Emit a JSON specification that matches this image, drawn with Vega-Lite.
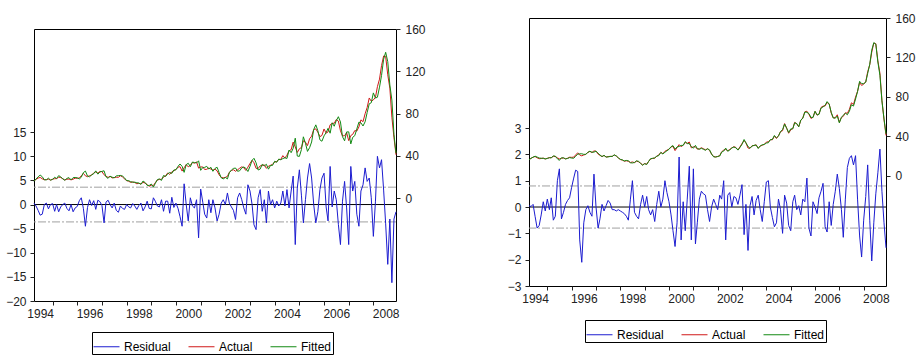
{
  "$schema": "https://vega.github.io/schema/vega-lite/v6.json",
  "background": "white",
  "padding": {"left": 5, "top": 11, "right": 0, "bottom": 0},
  "config": {
    "view": {"stroke": "black", "strokeWidth": 1},
    "font": "Liberation Sans",
    "axis": {"labelFont": "Liberation Sans", "labelFontSize": 12, "labelColor": "#222222", "tickColor": "#222222", "grid": false, "domain": false, "labelOverlap": false, "labelSeparation": 0, "labelFlush": false, "tickCount": 40, "title": null},
    "legend": {"orient": "none", "direction": "horizontal", "title": null, "strokeColor": "black", "fillColor": "white", "padding": 1, "symbolType": "stroke", "symbolSize": 676, "symbolStrokeWidth": 1, "labelFont": "Liberation Sans", "labelFontSize": 12, "labelColor": "black", "columnPadding": 15, "labelOffset": 4}
  },
  "datasets": {
    "oil": [
      {"m":"1994-04","a":16.4,"fl":16.1,"rl":0.3,"fr":16.35,"rr":0.05},
      {"m":"1994-05","a":17.9,"fl":18.2,"rl":-0.3,"fr":17.88,"rr":0.02},
      {"m":"1994-06","a":19.1,"fl":20.3,"rl":-1.2,"fr":19.0,"rr":0.1},
      {"m":"1994-07","a":19.7,"fl":21.9,"rl":-2.2,"fr":20.05,"rr":-0.35},
      {"m":"1994-08","a":18.4,"fl":20.4,"rl":-2.0,"fr":19.2,"rr":-0.8},
      {"m":"1994-09","a":17.5,"fl":17.5,"rl":0.0,"fr":18.2,"rr":-0.7},
      {"m":"1994-10","a":17.7,"fl":17.4,"rl":0.3,"fr":18.0,"rr":-0.3},
      {"m":"1994-11","a":18.1,"fl":19.0,"rl":-0.9,"fr":17.9,"rr":0.2},
      {"m":"1994-12","a":17.2,"fl":17.2,"rl":0.0,"fr":17.35,"rr":-0.15},
      {"m":"1995-01","a":18.0,"fl":17.8,"rl":0.2,"fr":17.7,"rr":0.3},
      {"m":"1995-02","a":18.5,"fl":19.9,"rl":-1.4,"fr":18.6,"rr":-0.1},
      {"m":"1995-03","a":18.6,"fl":18.6,"rl":0.0,"fr":18.25,"rr":0.35},
      {"m":"1995-04","a":19.9,"fl":21.4,"rl":-1.5,"fr":20.4,"rr":-0.5},
      {"m":"1995-05","a":19.7,"fl":20.2,"rl":-0.5,"fr":20.05,"rr":-0.35},
      {"m":"1995-06","a":18.4,"fl":18.4,"rl":0.0,"fr":17.4,"rr":1.0},
      {"m":"1995-07","a":17.3,"fl":17.0,"rl":0.3,"fr":15.85,"rr":1.45},
      {"m":"1995-08","a":18.0,"fl":18.8,"rl":-0.8,"fr":18.45,"rr":-0.45},
      {"m":"1995-09","a":18.2,"fl":19.5,"rl":-1.3,"fr":18.4,"rr":-0.2},
      {"m":"1995-10","a":17.4,"fl":17.4,"rl":0.0,"fr":17.3,"rr":0.1},
      {"m":"1995-11","a":18.0,"fl":19.5,"rl":-1.5,"fr":17.75,"rr":0.25},
      {"m":"1995-12","a":19.0,"fl":19.7,"rl":-0.7,"fr":18.65,"rr":0.35},
      {"m":"1996-01","a":18.9,"fl":19.3,"rl":-0.4,"fr":18.15,"rr":0.75},
      {"m":"1996-02","a":19.1,"fl":18.3,"rl":0.8,"fr":18.0,"rr":1.1},
      {"m":"1996-03","a":21.3,"fl":19.9,"rl":1.4,"fr":19.9,"rr":1.4},
      {"m":"1996-04","a":23.5,"fl":24.3,"rl":-0.8,"fr":22.15,"rr":1.35},
      {"m":"1996-05","a":21.2,"fl":25.7,"rl":-4.5,"fr":22.45,"rr":-1.25},
      {"m":"1996-06","a":20.4,"fl":21.0,"rl":-0.6,"fr":22.5,"rr":-2.1},
      {"m":"1996-07","a":21.3,"fl":20.3,"rl":1.0,"fr":21.9,"rr":-0.6},
      {"m":"1996-08","a":21.9,"fl":22.1,"rl":-0.2,"fr":22.0,"rr":-0.1},
      {"m":"1996-09","a":24.0,"fl":23.2,"rl":0.8,"fr":23.95,"rr":0.05},
      {"m":"1996-10","a":24.9,"fl":25.9,"rl":-1.0,"fr":25.1,"rr":-0.2},
      {"m":"1996-11","a":23.7,"fl":22.8,"rl":0.9,"fr":24.05,"rr":-0.35},
      {"m":"1996-12","a":25.4,"fl":24.8,"rl":0.6,"fr":24.15,"rr":1.25},
      {"m":"1997-01","a":25.2,"fl":25.4,"rl":-0.2,"fr":25.2,"rr":0.0},
      {"m":"1997-02","a":22.2,"fl":26.0,"rl":-3.8,"fr":23.0,"rr":-0.8},
      {"m":"1997-03","a":20.9,"fl":20.4,"rl":0.5,"fr":21.35,"rr":-0.45},
      {"m":"1997-04","a":19.7,"fl":18.8,"rl":0.9,"fr":19.6,"rr":0.1},
      {"m":"1997-05","a":20.8,"fl":20.8,"rl":0.0,"fr":20.95,"rr":-0.15},
      {"m":"1997-06","a":19.2,"fl":19.9,"rl":-0.7,"fr":19.15,"rr":0.05},
      {"m":"1997-07","a":19.6,"fl":19.3,"rl":0.3,"fr":19.35,"rr":0.25},
      {"m":"1997-08","a":19.9,"fl":21.1,"rl":-1.2,"fr":19.75,"rr":0.15},
      {"m":"1997-09","a":19.8,"fl":21.4,"rl":-1.6,"fr":19.9,"rr":-0.1},
      {"m":"1997-10","a":21.3,"fl":21.6,"rl":-0.3,"fr":21.4,"rr":-0.1},
      {"m":"1997-11","a":20.2,"fl":21.0,"rl":-0.8,"fr":20.35,"rr":-0.15},
      {"m":"1997-12","a":18.3,"fl":19.3,"rl":-1.0,"fr":18.4,"rr":-0.1},
      {"m":"1998-01","a":16.7,"fl":16.7,"rl":0.0,"fr":16.85,"rr":-0.15},
      {"m":"1998-02","a":16.1,"fl":16.6,"rl":-0.5,"fr":16.3,"rr":-0.2},
      {"m":"1998-03","a":15.0,"fl":15.7,"rl":-0.7,"fr":15.25,"rr":-0.25},
      {"m":"1998-04","a":15.4,"fl":15.2,"rl":0.2,"fr":15.75,"rr":-0.35},
      {"m":"1998-05","a":14.9,"fl":15.2,"rl":-0.3,"fr":15.4,"rr":-0.5},
      {"m":"1998-06","a":13.7,"fl":14.7,"rl":-1.0,"fr":13.4,"rr":0.3},
      {"m":"1998-07","a":14.2,"fl":14.4,"rl":-0.2,"fr":13.2,"rr":1.0},
      {"m":"1998-08","a":13.5,"fl":13.2,"rl":0.3,"fr":13.7,"rr":-0.2},
      {"m":"1998-09","a":15.0,"fl":16.3,"rl":-1.3,"fr":15.35,"rr":-0.35},
      {"m":"1998-10","a":14.4,"fl":14.9,"rl":-0.5,"fr":14.85,"rr":-0.45},
      {"m":"1998-11","a":12.9,"fl":12.2,"rl":0.7,"fr":12.8,"rr":0.1},
      {"m":"1998-12","a":11.3,"fl":12.1,"rl":-0.8,"fr":10.85,"rr":0.45},
      {"m":"1999-01","a":12.5,"fl":13.4,"rl":-0.9,"fr":12.5,"rr":0.0},
      {"m":"1999-02","a":12.0,"fl":10.6,"rl":1.4,"fr":11.6,"rr":0.4},
      {"m":"1999-03","a":14.7,"fl":14.0,"rl":0.7,"fr":14.8,"rr":-0.1},
      {"m":"1999-04","a":17.3,"fl":17.6,"rl":-0.3,"fr":17.6,"rr":-0.3},
      {"m":"1999-05","a":17.8,"fl":18.3,"rl":-0.5,"fr":17.9,"rr":-0.1},
      {"m":"1999-06","a":17.9,"fl":16.9,"rl":1.0,"fr":18.45,"rr":-0.55},
      {"m":"1999-07","a":20.1,"fl":21.5,"rl":-1.4,"fr":20.0,"rr":0.1},
      {"m":"1999-08","a":21.3,"fl":20.6,"rl":0.7,"fr":20.7,"rr":0.6},
      {"m":"1999-09","a":23.9,"fl":23.2,"rl":0.7,"fr":23.9,"rr":0.0},
      {"m":"1999-10","a":22.6,"fl":24.4,"rl":-1.8,"fr":22.3,"rr":0.3},
      {"m":"1999-11","a":25.0,"fl":23.5,"rl":1.5,"fr":24.0,"rr":1.0},
      {"m":"1999-12","a":26.1,"fl":26.7,"rl":-0.6,"fr":25.55,"rr":0.55},
      {"m":"2000-01","a":27.2,"fl":26.9,"rl":0.3,"fr":27.0,"rr":0.2},
      {"m":"2000-02","a":29.4,"fl":30.2,"rl":-0.8,"fr":29.7,"rr":-0.3},
      {"m":"2000-03","a":29.9,"fl":32.4,"rl":-2.5,"fr":30.8,"rr":-0.9},
      {"m":"2000-04","a":25.7,"fl":30.2,"rl":-4.5,"fr":27.2,"rr":-1.5},
      {"m":"2000-05","a":28.8,"fl":24.5,"rl":4.3,"fr":29.4,"rr":-0.6},
      {"m":"2000-06","a":31.8,"fl":31.8,"rl":0.0,"fr":29.9,"rr":1.9},
      {"m":"2000-07","a":29.7,"fl":33.1,"rl":-3.4,"fr":30.95,"rr":-1.25},
      {"m":"2000-08","a":31.2,"fl":29.8,"rl":1.4,"fr":31.0,"rr":0.2},
      {"m":"2000-09","a":33.9,"fl":34.2,"rl":-0.3,"fr":34.8,"rr":-0.9},
      {"m":"2000-10","a":33.1,"fl":33.8,"rl":-0.7,"fr":32.8,"rr":0.3},
      {"m":"2000-11","a":34.4,"fl":33.4,"rl":1.0,"fr":32.85,"rr":1.55},
      {"m":"2000-12","a":28.5,"fl":35.4,"rl":-6.9,"fr":29.75,"rr":-1.25},
      {"m":"2001-01","a":29.6,"fl":26.4,"rl":3.2,"fr":28.15,"rr":1.45},
      {"m":"2001-02","a":29.6,"fl":29.1,"rl":0.5,"fr":31.0,"rr":-1.4},
      {"m":"2001-03","a":27.2,"fl":29.2,"rl":-2.0,"fr":27.8,"rr":-0.6},
      {"m":"2001-04","a":27.4,"fl":30.2,"rl":-2.8,"fr":27.1,"rr":0.3},
      {"m":"2001-05","a":28.6,"fl":27.6,"rl":1.0,"fr":28.0,"rr":0.6},
      {"m":"2001-06","a":27.6,"fl":29.3,"rl":-1.7,"fr":27.1,"rr":0.5},
      {"m":"2001-07","a":26.5,"fl":25.5,"rl":1.0,"fr":26.05,"rr":0.45},
      {"m":"2001-08","a":27.5,"fl":28.2,"rl":-0.7,"fr":27.6,"rr":-0.1},
      {"m":"2001-09","a":25.9,"fl":29.3,"rl":-3.4,"fr":26.45,"rr":-0.55},
      {"m":"2001-10","a":22.2,"fl":24.2,"rl":-2.0,"fr":22.2,"rr":0.0},
      {"m":"2001-11","a":19.7,"fl":19.4,"rl":0.3,"fr":19.4,"rr":0.3},
      {"m":"2001-12","a":19.3,"fl":18.3,"rl":1.0,"fr":19.2,"rr":0.1},
      {"m":"2002-01","a":19.7,"fl":19.7,"rl":0.0,"fr":19.8,"rr":-0.1},
      {"m":"2002-02","a":20.7,"fl":18.3,"rl":2.4,"fr":20.25,"rr":0.45},
      {"m":"2002-03","a":24.5,"fl":24.2,"rl":0.3,"fr":24.2,"rr":0.3},
      {"m":"2002-04","a":26.2,"fl":26.7,"rl":-0.5,"fr":25.2,"rr":1.0},
      {"m":"2002-05","a":27.0,"fl":28.2,"rl":-1.2,"fr":28.25,"rr":-1.25},
      {"m":"2002-06","a":25.5,"fl":28.6,"rl":-3.1,"fr":25.05,"rr":0.45},
      {"m":"2002-07","a":26.9,"fl":25.5,"rl":1.4,"fr":26.35,"rr":0.55},
      {"m":"2002-08","a":28.4,"fl":26.0,"rl":2.4,"fr":28.4,"rr":0.0},
      {"m":"2002-09","a":29.7,"fl":28.7,"rl":1.0,"fr":29.3,"rr":0.4},
      {"m":"2002-10","a":28.9,"fl":29.6,"rl":-0.7,"fr":28.55,"rr":0.35},
      {"m":"2002-11","a":26.3,"fl":28.3,"rl":-2.0,"fr":26.2,"rr":0.1},
      {"m":"2002-12","a":29.4,"fl":25.3,"rl":4.1,"fr":28.95,"rr":0.45},
      {"m":"2003-01","a":32.9,"fl":30.1,"rl":2.8,"fr":32.05,"rr":0.85},
      {"m":"2003-02","a":35.9,"fl":35.9,"rl":0.0,"fr":36.95,"rr":-1.05},
      {"m":"2003-03","a":33.6,"fl":37.8,"rl":-4.2,"fr":33.5,"rr":0.1},
      {"m":"2003-04","a":28.3,"fl":33.5,"rl":-5.2,"fr":29.95,"rr":-1.65},
      {"m":"2003-05","a":28.1,"fl":26.7,"rl":1.4,"fr":28.05,"rr":0.05},
      {"m":"2003-06","a":30.7,"fl":27.6,"rl":3.1,"fr":30.3,"rr":0.4},
      {"m":"2003-07","a":30.8,"fl":32.2,"rl":-1.4,"fr":31.1,"rr":-0.3},
      {"m":"2003-08","a":31.6,"fl":30.6,"rl":1.0,"fr":31.35,"rr":0.25},
      {"m":"2003-09","a":28.3,"fl":32.1,"rl":-3.8,"fr":27.85,"rr":0.45},
      {"m":"2003-10","a":30.3,"fl":27.5,"rl":2.8,"fr":30.4,"rr":-0.1},
      {"m":"2003-11","a":31.1,"fl":31.1,"rl":0.0,"fr":31.65,"rr":-0.55},
      {"m":"2003-12","a":32.1,"fl":31.1,"rl":1.0,"fr":31.9,"rr":0.2},
      {"m":"2004-01","a":34.3,"fl":35.0,"rl":-0.7,"fr":33.35,"rr":0.95},
      {"m":"2004-02","a":34.7,"fl":34.0,"rl":0.7,"fr":33.7,"rr":1.0},
      {"m":"2004-03","a":36.7,"fl":37.0,"rl":-0.3,"fr":36.7,"rr":0.0},
      {"m":"2004-04","a":36.7,"fl":36.4,"rl":0.3,"fr":37.1,"rr":-0.4},
      {"m":"2004-05","a":40.3,"fl":37.5,"rl":2.8,"fr":41.05,"rr":-0.75},
      {"m":"2004-06","a":38.0,"fl":38.3,"rl":-0.3,"fr":38.6,"rr":-0.6},
      {"m":"2004-07","a":40.7,"fl":37.6,"rl":3.1,"fr":40.4,"rr":0.3},
      {"m":"2004-08","a":44.9,"fl":45.6,"rl":-0.7,"fr":45.0,"rr":-0.1},
      {"m":"2004-09","a":45.9,"fl":43.1,"rl":2.8,"fr":46.9,"rr":-1.0},
      {"m":"2004-10","a":53.1,"fl":47.2,"rl":5.9,"fr":52.65,"rr":0.45},
      {"m":"2004-11","a":48.5,"fl":56.8,"rl":-8.3,"fr":48.35,"rr":0.15},
      {"m":"2004-12","a":43.3,"fl":39.9,"rl":3.4,"fr":44.0,"rr":-0.7},
      {"m":"2005-01","a":46.8,"fl":39.6,"rl":7.2,"fr":47.7,"rr":-0.9},
      {"m":"2005-02","a":48.0,"fl":46.2,"rl":1.8,"fr":47.8,"rr":0.2},
      {"m":"2005-03","a":54.3,"fl":58.1,"rl":-3.8,"fr":53.85,"rr":0.45},
      {"m":"2005-04","a":53.0,"fl":52.0,"rl":1.0,"fr":53.1,"rr":-0.1},
      {"m":"2005-05","a":49.8,"fl":44.3,"rl":5.5,"fr":49.75,"rr":0.05},
      {"m":"2005-06","a":56.3,"fl":47.8,"rl":8.5,"fr":56.6,"rr":-0.3},
      {"m":"2005-07","a":58.7,"fl":53.2,"rl":5.5,"fr":58.4,"rr":0.3},
      {"m":"2005-08","a":65.0,"fl":65.0,"rl":0.0,"fr":64.8,"rr":0.2},
      {"m":"2005-09","a":65.6,"fl":69.4,"rl":-3.8,"fr":64.5,"rr":1.1},
      {"m":"2005-10","a":62.4,"fl":63.9,"rl":-1.5,"fr":63.2,"rr":-0.8},
      {"m":"2005-11","a":58.3,"fl":55.2,"rl":3.1,"fr":59.4,"rr":-1.1},
      {"m":"2005-12","a":59.4,"fl":53.9,"rl":5.5,"fr":59.2,"rr":0.2},
      {"m":"2006-01","a":65.5,"fl":59.0,"rl":6.5,"fr":65.5,"rr":0.0},
      {"m":"2006-02","a":61.6,"fl":62.1,"rl":-0.5,"fr":61.85,"rr":-0.25},
      {"m":"2006-03","a":62.7,"fl":66.1,"rl":-3.4,"fr":62.35,"rr":0.35},
      {"m":"2006-04","a":69.4,"fl":61.5,"rl":7.9,"fr":68.8,"rr":0.6},
      {"m":"2006-05","a":70.8,"fl":71.3,"rl":-0.5,"fr":69.9,"rr":0.9},
      {"m":"2006-06","a":70.9,"fl":68.1,"rl":2.8,"fr":71.65,"rr":-0.75},
      {"m":"2006-07","a":74.4,"fl":73.4,"rl":1.0,"fr":75.35,"rr":-0.95},
      {"m":"2006-08","a":73.0,"fl":77.1,"rl":-4.1,"fr":72.8,"rr":0.2},
      {"m":"2006-09","a":63.8,"fl":72.1,"rl":-8.3,"fr":64.5,"rr":-0.7},
      {"m":"2006-10","a":58.9,"fl":58.2,"rl":0.7,"fr":58.8,"rr":0.1},
      {"m":"2006-11","a":59.1,"fl":54.3,"rl":4.8,"fr":58.5,"rr":0.6},
      {"m":"2006-12","a":62.0,"fl":62.7,"rl":-0.7,"fr":60.75,"rr":1.25},
      {"m":"2007-01","a":54.5,"fl":62.8,"rl":-8.3,"fr":53.8,"rr":0.7},
      {"m":"2007-02","a":59.3,"fl":51.4,"rl":7.9,"fr":59.4,"rr":-0.1},
      {"m":"2007-03","a":60.4,"fl":57.6,"rl":2.8,"fr":61.55,"rr":-1.15},
      {"m":"2007-04","a":64.0,"fl":59.2,"rl":4.8,"fr":63.7,"rr":0.3},
      {"m":"2007-05","a":63.5,"fl":65.5,"rl":-2.0,"fr":62.0,"rr":1.5},
      {"m":"2007-06","a":67.5,"fl":72.0,"rl":-4.5,"fr":65.65,"rr":1.85},
      {"m":"2007-07","a":74.1,"fl":71.3,"rl":2.8,"fr":72.15,"rr":1.95},
      {"m":"2007-08","a":72.4,"fl":68.3,"rl":4.1,"fr":70.8,"rr":1.6},
      {"m":"2007-09","a":79.9,"fl":72.3,"rl":7.6,"fr":77.95,"rr":1.95},
      {"m":"2007-10","a":85.8,"fl":81.0,"rl":4.8,"fr":85.5,"rr":0.3},
      {"m":"2007-11","a":94.8,"fl":89.3,"rl":5.5,"fr":95.9,"rr":-1.1},
      {"m":"2007-12","a":91.7,"fl":90.3,"rl":1.4,"fr":93.6,"rr":-1.9},
      {"m":"2008-01","a":93.0,"fl":99.6,"rl":-6.6,"fr":93.5,"rr":-0.5},
      {"m":"2008-02","a":95.4,"fl":94.7,"rl":0.7,"fr":95.0,"rr":0.4},
      {"m":"2008-03","a":105.5,"fl":95.5,"rl":10.0,"fr":103.9,"rr":1.6},
      {"m":"2008-04","a":112.6,"fl":105.0,"rl":7.6,"fr":113.1,"rr":-0.5},
      {"m":"2008-05","a":125.4,"fl":116.1,"rl":9.3,"fr":127.45,"rr":-2.05},
      {"m":"2008-06","a":134.5,"fl":131.5,"rl":3.0,"fr":135.1,"rr":-0.6},
      {"m":"2008-07","a":134.0,"fl":138.0,"rl":-4.0,"fr":133.5,"rr":0.5},
      {"m":"2008-08","a":116.7,"fl":129.1,"rl":-12.4,"fr":115.4,"rr":1.3},
      {"m":"2008-09","a":104.1,"fl":107.1,"rl":-3.0,"fr":101.9,"rr":2.2},
      {"m":"2008-10","a":76.6,"fl":92.8,"rl":-16.2,"fr":76.0,"rr":0.6},
      {"m":"2008-11","a":57.3,"fl":60.3,"rl":-3.0,"fr":57.9,"rr":-0.6},
      {"m":"2008-12","a":41.1,"fl":42.6,"rl":-1.5,"fr":42.65,"rr":-1.55}
    ]
  },
  "hconcat": [
    {
      "spacing": 3,
      "resolve": {"scale": {"color": "independent"}},
      "vconcat": [
        {
          "width": 362,
          "height": 1,
          "view": {"stroke": null},
          "data": {"values": []},
          "mark": {"type": "rule"},
          "encoding": {}
        },
        {
          "width": 362,
          "height": 272,
          "data": {"name": "oil"},
          "layer": [
            {
              "layer": [
                {
                  "data": {"values": [{"se": 3.6}, {"se": -3.6}]},
                  "mark": {"type": "rule", "color": "#a0a0a0", "strokeWidth": 1, "strokeDash": [8, 2, 2, 2]},
                  "encoding": {"y": {"field": "se", "type": "quantitative", "title": null, "scale": {"domain": [-20, 36.4], "nice": false, "zero": false}}}
                },
                {
                  "data": {"values": [{"z": 0}]},
                  "mark": {"type": "rule", "color": "black", "strokeWidth": 1},
                  "encoding": {"y": {"field": "z", "type": "quantitative", "title": null}}
                },
                {
                  "mark": {"type": "line", "strokeWidth": 1},
                  "encoding": {
                    "x": {"field": "m", "type": "temporal", "title": null,
                      "scale": {"type": "utc", "nice": false, "domain": [{"year": 1994, "month": 4, "date": 1, "utc": true}, {"year": 2008, "month": 12, "date": 1, "utc": true}]},
                      "axis": {"orient": "bottom", "labels": false, "ticks": true, "tickSize": 4, "tickCount": 40, "values": [
                        {"year": 1995, "month": 1, "date": 1, "utc": true}, {"year": 1996, "month": 1, "date": 1, "utc": true},
                        {"year": 1997, "month": 1, "date": 1, "utc": true}, {"year": 1998, "month": 1, "date": 1, "utc": true},
                        {"year": 1999, "month": 1, "date": 1, "utc": true}, {"year": 2000, "month": 1, "date": 1, "utc": true},
                        {"year": 2001, "month": 1, "date": 1, "utc": true}, {"year": 2002, "month": 1, "date": 1, "utc": true},
                        {"year": 2003, "month": 1, "date": 1, "utc": true}, {"year": 2004, "month": 1, "date": 1, "utc": true},
                        {"year": 2005, "month": 1, "date": 1, "utc": true}, {"year": 2006, "month": 1, "date": 1, "utc": true},
                        {"year": 2007, "month": 1, "date": 1, "utc": true}, {"year": 2008, "month": 1, "date": 1, "utc": true}]}},
                    "y": {"field": "rl", "type": "quantitative", "title": null,
                      "axis": {"orient": "left", "format": "d", "values": [-20, -15, -10, -5, 0, 5, 10, 15], "tickCount": 40, "tickSize": 4, "labelPadding": 4, "labelOverlap": false}},
                    "color": {"datum": "Residual", "type": "nominal",
                      "scale": {"domain": ["Residual", "Actual", "Fitted"], "range": ["#1c1cd0", "#d01818", "#138a13"]},
                      "legend": {"legendX": 58, "legendY": 303}}
                  }
                }
              ]
            },
            {
              "layer": [
                {
                  "mark": {"type": "line", "strokeWidth": 1},
                  "encoding": {
                    "x": {"field": "m", "type": "temporal", "title": null,
                      "scale": {"type": "utc", "nice": false, "domain": [{"year": 1994, "month": 4, "date": 1, "utc": true}, {"year": 2008, "month": 12, "date": 1, "utc": true}]},
                      "axis": {"orient": "bottom", "format": "%Y", "ticks": false, "tickSize": 0, "labelPadding": 7, "tickCount": 40, "values": [
                        {"year": 1994, "month": 7, "date": 1, "utc": true}, {"year": 1996, "month": 7, "date": 1, "utc": true},
                        {"year": 1998, "month": 7, "date": 1, "utc": true}, {"year": 2000, "month": 7, "date": 1, "utc": true},
                        {"year": 2002, "month": 7, "date": 1, "utc": true}, {"year": 2004, "month": 7, "date": 1, "utc": true},
                        {"year": 2006, "month": 7, "date": 1, "utc": true}, {"year": 2008, "month": 7, "date": 1, "utc": true}]}},
                    "y": {"field": "a", "type": "quantitative", "title": null,
                      "scale": {"domain": [-97.1, 160], "nice": false, "zero": false},
                      "axis": {"orient": "right", "format": "d", "values": [0, 40, 80, 120, 160], "tickCount": 40, "tickSize": 4, "labelPadding": 5}},
                    "color": {"datum": "Actual", "type": "nominal"}
                  }
                },
                {
                  "mark": {"type": "line", "strokeWidth": 1},
                  "encoding": {
                    "x": {"field": "m", "type": "temporal", "title": null},
                    "y": {"field": "fl", "type": "quantitative", "title": null},
                    "color": {"datum": "Fitted", "type": "nominal"}
                  }
                }
              ]
            }
          ],
          "resolve": {"scale": {"y": "independent"}, "axis": {"x": "independent"}}
        }
      ]
    },
    {
      "width": 357,
      "height": 268,
      "data": {"name": "oil"},
      "layer": [
        {
          "layer": [
            {
              "data": {"values": [{"se": 0.8}, {"se": -0.8}]},
              "mark": {"type": "rule", "color": "#a0a0a0", "strokeWidth": 1, "strokeDash": [8, 2, 2, 2]},
              "encoding": {"y": {"field": "se", "type": "quantitative", "title": null, "scale": {"domain": [-3, 7.18], "nice": false, "zero": false}}}
            },
            {
              "data": {"values": [{"z": 0}]},
              "mark": {"type": "rule", "color": "black", "strokeWidth": 1},
              "encoding": {"y": {"field": "z", "type": "quantitative", "title": null}}
            },
            {
              "mark": {"type": "line", "strokeWidth": 1},
              "encoding": {
                "x": {"field": "m", "type": "temporal", "title": null,
                  "scale": {"type": "utc", "nice": false, "domain": [{"year": 1994, "month": 4, "date": 1, "utc": true}, {"year": 2008, "month": 12, "date": 1, "utc": true}]},
                  "axis": {"orient": "bottom", "labels": false, "ticks": true, "tickSize": 4, "tickCount": 40, "values": [
                    {"year": 1995, "month": 1, "date": 1, "utc": true}, {"year": 1996, "month": 1, "date": 1, "utc": true},
                    {"year": 1997, "month": 1, "date": 1, "utc": true}, {"year": 1998, "month": 1, "date": 1, "utc": true},
                    {"year": 1999, "month": 1, "date": 1, "utc": true}, {"year": 2000, "month": 1, "date": 1, "utc": true},
                    {"year": 2001, "month": 1, "date": 1, "utc": true}, {"year": 2002, "month": 1, "date": 1, "utc": true},
                    {"year": 2003, "month": 1, "date": 1, "utc": true}, {"year": 2004, "month": 1, "date": 1, "utc": true},
                    {"year": 2005, "month": 1, "date": 1, "utc": true}, {"year": 2006, "month": 1, "date": 1, "utc": true},
                    {"year": 2007, "month": 1, "date": 1, "utc": true}, {"year": 2008, "month": 1, "date": 1, "utc": true}]}},
                "y": {"field": "rr", "type": "quantitative", "title": null,
                  "axis": {"orient": "left", "format": "d", "values": [-3, -2, -1, 0, 1, 2, 3], "tickCount": 40, "tickSize": 4, "labelPadding": 4}},
                "color": {"datum": "Residual", "type": "nominal",
                  "scale": {"domain": ["Residual", "Actual", "Fitted"], "range": ["#1c1cd0", "#d01818", "#138a13"]},
                  "legend": {"legendX": 56, "legendY": 302}}
              }
            }
          ]
        },
        {
          "layer": [
            {
              "mark": {"type": "line", "strokeWidth": 1},
              "encoding": {
                "x": {"field": "m", "type": "temporal", "title": null,
                  "scale": {"type": "utc", "nice": false, "domain": [{"year": 1994, "month": 4, "date": 1, "utc": true}, {"year": 2008, "month": 12, "date": 1, "utc": true}]},
                  "axis": {"orient": "bottom", "format": "%Y", "ticks": false, "tickSize": 0, "labelPadding": 7, "tickCount": 40, "values": [
                    {"year": 1994, "month": 7, "date": 1, "utc": true}, {"year": 1996, "month": 7, "date": 1, "utc": true},
                    {"year": 1998, "month": 7, "date": 1, "utc": true}, {"year": 2000, "month": 7, "date": 1, "utc": true},
                    {"year": 2002, "month": 7, "date": 1, "utc": true}, {"year": 2004, "month": 7, "date": 1, "utc": true},
                    {"year": 2006, "month": 7, "date": 1, "utc": true}, {"year": 2008, "month": 7, "date": 1, "utc": true}]}},
                "y": {"field": "a", "type": "quantitative", "title": null,
                  "scale": {"domain": [-111.4, 160], "nice": false, "zero": false},
                  "axis": {"orient": "right", "format": "d", "values": [0, 40, 80, 120, 160], "tickCount": 40, "tickSize": 4, "labelPadding": 5}},
                "color": {"datum": "Actual", "type": "nominal"}
              }
            },
            {
              "mark": {"type": "line", "strokeWidth": 1},
              "encoding": {
                "x": {"field": "m", "type": "temporal", "title": null},
                "y": {"field": "fr", "type": "quantitative", "title": null},
                "color": {"datum": "Fitted", "type": "nominal"}
              }
            }
          ]
        }
      ],
      "resolve": {"scale": {"y": "independent"}, "axis": {"x": "independent"}}
    }
  ],
  "spacing": 80,
  "resolve": {"scale": {"color": "independent"}}
}
